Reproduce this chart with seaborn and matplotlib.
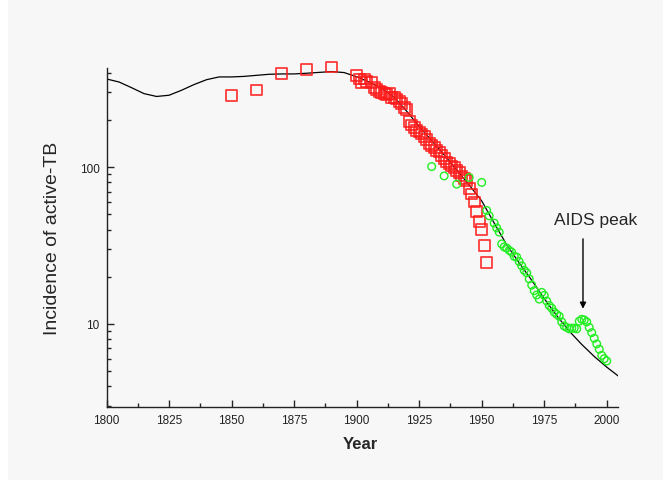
import numpy as np
import pandas as pd
import matplotlib
matplotlib.use("Agg")
import matplotlib.pyplot as plt
import matplotlib.ticker as mticker
from matplotlib.patches import Rectangle
import seaborn as sns

# model curve (black line)
model_year = [1800, 1805, 1810, 1815, 1820, 1825, 1830, 1835, 1840, 1845, 1850,
              1855, 1860, 1865, 1870, 1875, 1880, 1885, 1890, 1895, 1900, 1905,
              1910, 1915, 1920, 1925, 1930, 1935, 1940, 1945, 1950, 1955, 1960,
              1965, 1970, 1975, 1980, 1985, 1990, 1995, 2000, 2005]
model_val = [366, 350, 322, 295, 283, 288, 310, 337, 362, 377, 377,
             380, 386, 392, 394, 394, 398, 403, 408, 402, 378, 350,
             318, 280, 228, 182, 148, 120, 96, 77, 61, 44, 32,
             24.5, 19, 14.5, 11.3, 9.0, 7.4, 6.2, 5.3, 4.6]

# red squares (older records)
red_year = [1850, 1860, 1870, 1880, 1890,
            1900, 1901, 1902, 1903, 1904, 1906, 1907, 1908, 1909, 1910,
            1911, 1912, 1913, 1914, 1915, 1916, 1917, 1918, 1919, 1920,
            1921, 1922, 1923, 1924, 1925, 1926, 1927, 1928, 1929, 1930,
            1931, 1932, 1933, 1934, 1935, 1936, 1937, 1938, 1939, 1940,
            1941, 1942, 1943, 1944, 1945, 1946, 1947, 1948, 1949, 1950,
            1951, 1952]
red_val = [286, 311, 395, 420, 436,
           385, 366, 348, 366, 352, 348, 324, 315, 304, 300,
           294, 290, 294, 280, 278, 273, 262, 254, 240, 233,
           196, 186, 180, 171, 168, 163, 157, 151, 141, 138,
           134, 128, 125, 119, 114, 108, 106, 102, 100, 95,
           93, 88, 85, 82, 73, 67.5, 60, 52, 45, 40,
           31.6, 24.8]

# green circles (recent records)
green_year = [1930, 1935, 1940, 1945, 1950, 1952, 1953, 1955, 1956, 1957,
              1958, 1959, 1960, 1961, 1962, 1963, 1964, 1965, 1966, 1967,
              1968, 1969, 1970, 1971, 1972, 1973, 1974, 1975, 1976, 1977,
              1978, 1979, 1980, 1981, 1982, 1983, 1984, 1985, 1986, 1987,
              1988, 1989, 1990, 1991, 1992, 1993, 1994, 1995, 1996, 1997,
              1998, 1999, 2000]
green_val = [101, 88, 78, 86, 80, 53, 49, 44, 41, 38.5,
             32.4, 31, 30.5, 29.5, 28.7, 27, 26.7, 25, 23.5, 22,
             21.2, 19.4, 17.7, 16.3, 15.3, 14.4, 15.9, 15.2, 14, 13.1,
             12.6, 11.9, 11.5, 11.2, 10.3, 9.7, 9.5, 9.3, 9.4, 9.4,
             9.3, 10.4, 10.7, 10.6, 10.3, 9.5, 8.8, 8.1, 7.45, 6.9,
             6.3, 6.0, 5.8]

sns.set_style("ticks")
plt.rcParams["font.family"] = ["Liberation Sans", "DejaVu Sans"]

bg = "#f7f7f7"
fig = plt.figure(figsize=(6.71, 4.81), dpi=100, facecolor="white")
fig.patches.append(Rectangle((8 / 671, 0), 655 / 671, 480 / 481,
                             transform=fig.transFigure, facecolor=bg,
                             edgecolor="none", zorder=-10))
ax = fig.add_axes([106.5 / 671, 73 / 481, 511.5 / 671, 338.7 / 481])
ax.set_facecolor(bg)

sns.lineplot(x=model_year, y=model_val, color="black", lw=0.9, ax=ax, zorder=2)
sns.scatterplot(x=red_year, y=red_val, marker="s", s=60, facecolor="none",
                edgecolor="#ff1a1a", linewidth=1.3, alpha=0.85, ax=ax,
                zorder=3, clip_on=False)
sns.scatterplot(x=green_year, y=green_val, marker="o", s=30, facecolor="none",
                edgecolor="#22ee22", linewidth=1.0, ax=ax, zorder=3,
                clip_on=False)

ax.set_yscale("log")
ax.set_xlim(1800, 2004.5)
ax.set_ylim(2.95, 428)

ax.xaxis.set_major_locator(mticker.MultipleLocator(25))
ax.xaxis.set_minor_locator(mticker.MultipleLocator(12.5))
ax.yaxis.set_major_locator(mticker.FixedLocator([10, 100]))
ax.yaxis.set_major_formatter(mticker.FixedFormatter(["10", "100"]))
ax.yaxis.set_minor_locator(mticker.LogLocator(base=10, subs=np.arange(2, 10)))
ax.yaxis.set_minor_formatter(mticker.NullFormatter())

ax.tick_params(which="major", direction="in", length=5, width=1,
               labelsize=8.5, labelcolor="#222222", pad=5)
ax.tick_params(which="minor", direction="in", length=3, width=1)

sns.despine(ax=ax)
for s in ["left", "bottom"]:
    ax.spines[s].set_linewidth(1)
    ax.spines[s].set_color("#222222")

ax.set_xlabel("Year", fontsize=12, fontweight="bold")
ax.set_ylabel("Incidence of active-TB", fontsize=14)
ax.xaxis.set_label_coords(0.4956, -0.086)
ax.yaxis.set_label_coords(-0.088, 0.5)

ax.annotate("", xy=(1990.5, 12.5), xytext=(1990.5, 34.9),
            arrowprops=dict(arrowstyle="-|>", color="black", lw=1,
                            mutation_scale=9, shrinkA=0, shrinkB=0))
ax.text(1995.6, 46.7, "AIDS peak", fontsize=12.5, ha="center", va="center")

plt.savefig("out.png", dpi=100, facecolor="white")
